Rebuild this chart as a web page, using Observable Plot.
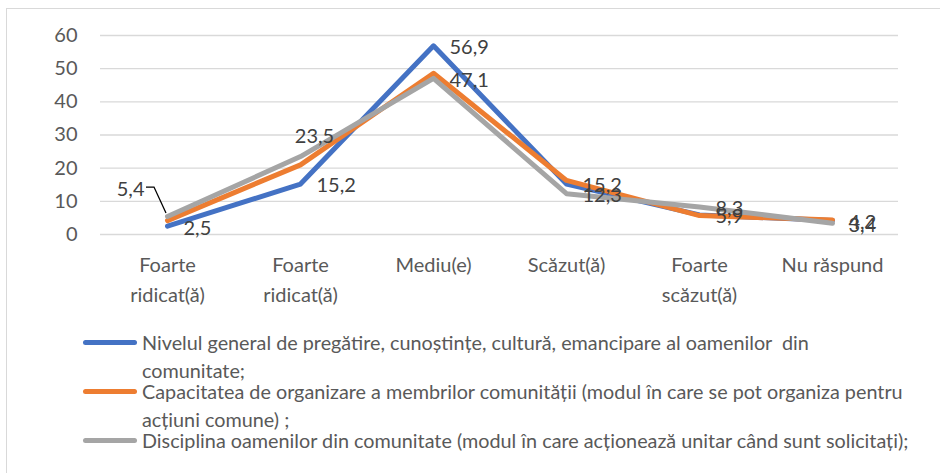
<!DOCTYPE html>
<html><head><meta charset="utf-8">
<script src="https://cdn.jsdelivr.net/npm/d3@7"></script>
<script src="https://cdn.jsdelivr.net/npm/@observablehq/plot@0.6"></script>
<style>
html,body{margin:0;padding:0;background:#fff;}
body{width:940px;height:473px;position:relative;overflow:hidden;font-family:Lato,"Open Sans",sans-serif;}
#frame{position:absolute;left:6px;top:8px;width:1000px;height:500px;border:1.5px solid #d9d9d9;box-sizing:border-box;}
#chart{position:absolute;left:0;top:0;}
#legend{position:absolute;left:0;top:328px;width:940px;color:#595959;font-size:19.8px;}
.entry{position:relative;line-height:28px;padding-left:142px;white-space:pre;}
.entry + .entry{margin-top:-7px;}
.sw{position:absolute;left:83px;top:12px;width:54px;height:5px;border-radius:3px;}
</style></head><body>
<div id="frame"></div>
<div id="chart"></div>
<div id="legend"></div>
<script>
const categories = ["Foarte ridicat(ă)", "Foarte ridicat(ă)", "Mediu(e)", "Scăzut(ă)", "Foarte scăzut(ă)", "Nu răspund"];
const tickLabels = ["Foarte\nridicat(ă)", "Foarte\nridicat(ă)", "Mediu(e)", "Scăzut(ă)", "Foarte\nscăzut(ă)", "Nu răspund"];
const seriesNames = [
  "Nivelul general de pregătire, cunoștințe, cultură, emancipare al oamenilor  din\ncomunitate;",
  "Capacitatea de organizare a membrilor comunității (modul în care se pot organiza pentru\nacțiuni comune) ;",
  "Disciplina oamenilor din comunitate (modul în care acționează unitar când sunt solicitați);"
];
const nivelul = [2.5, 15.2, 56.9, 15.2, 5.9, 4.2];
const capacitatea = [4.2, 21.0, 48.6, 16.3, 5.7, 4.4];
const disciplina = [5.4, 23.5, 47.1, 12.3, 8.3, 3.4];
const colors = ["#4472C4", "#ED7D31", "#A5A5A5"];
const yTicks = [0, 10, 20, 30, 40, 50, 60];

const seriesValues = [nivelul, capacitatea, disciplina];
const rows = [];
seriesValues.forEach((vals, s) => vals.forEach((v, i) => rows.push({i, s, series: seriesNames[s], value: v})));
const idx = d3.range(categories.length);
const fmt = v => v.toFixed(1).replace(".", ",");

const blueRows = rows.filter(d => d.s === 0);
const grayRows = rows.filter(d => d.s === 2);
const rightLabels = blueRows.concat(grayRows.filter(d => d.i >= 2));

const leader = (index, {x, y}) => {
  const px = x(0), py = y(disciplina[0]);
  const p = document.createElementNS("http://www.w3.org/2000/svg", "path");
  p.setAttribute("d", `M${px - 21},${py - 29}H${px - 13}L${px - 1},${py - 3}`);
  p.setAttribute("fill", "none");
  p.setAttribute("stroke", "#000");
  p.setAttribute("stroke-width", "1.3");
  return p;
};

const plot = Plot.plot({
  width: 940, height: 320,
  marginLeft: 100, marginRight: 42, marginTop: 35, marginBottom: 86,
  style: {fontFamily: "Lato, sans-serif", fontSize: "20px", color: "#595959", background: "transparent", overflow: "visible"},
  x: {type: "point", domain: idx, padding: 0.5},
  y: {domain: [0, 60]},
  color: {domain: seriesNames, range: colors},
  marks: [
    Plot.gridY(yTicks, {stroke: "#d9d9d9", strokeOpacity: 1, strokeWidth: 1.3}),
    Plot.axisY(yTicks, {tickSize: 0, tickPadding: 23, label: null, fill: "#595959", fontSize: 20}),
    Plot.axisX(idx, {tickSize: 0, tickPadding: 16, label: null, tickFormat: i => tickLabels[i], lineHeight: 1.5, fill: "#595959", fontSize: 20}),
    Plot.line(rows, {x: "i", y: "value", z: "series", stroke: "series", strokeWidth: 5, strokeLinejoin: "round", strokeLinecap: "round"}),
    leader,
    Plot.text(rightLabels, {x: "i", y: "value", text: d => fmt(d.value), textAnchor: "start", dx: 16, dy: 2, fill: "#404040", fontSize: 20}),
    Plot.text(grayRows.filter(d => d.i === 1), {x: "i", y: "value", text: d => fmt(d.value), textAnchor: "middle", dx: 14, dy: -20, fill: "#404040", fontSize: 20}),
    Plot.text(grayRows.filter(d => d.i === 0), {x: "i", y: "value", text: d => fmt(d.value), textAnchor: "end", dx: -23, dy: -27, fill: "#404040", fontSize: 20})
  ]
});
document.getElementById("chart").appendChild(plot);

const legend = d3.select("#legend");
seriesNames.forEach((name, s) => {
  const e = legend.append("div").attr("class", "entry");
  e.append("div").attr("class", "sw").style("background", colors[s]);
  e.append("span").text(name);
});
</script>
</body></html>
